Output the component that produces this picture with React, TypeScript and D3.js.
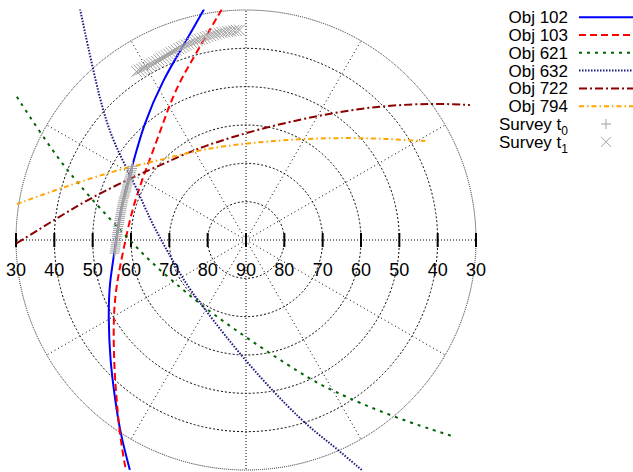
import React, { useRef, useEffect } from "react";
import * as d3 from "d3";

// tracks as [polar angle in deg (0 = right, counter-clockwise), elevation in deg]
const obj102: [number, number][] = [
  [100.3, 28.8], [106.5, 35.6], [117.5, 42.9], [132.0, 49.9], [145.8, 54.4],
  [164.4, 56.1], [184.4, 55.7], [197.6, 52.6], [209.1, 48.9], [221.4, 42.7],
  [230.7, 36.1], [236.9, 29.9], [243.2, 22.8],
];
const obj103: [number, number][] = [
  [96.0, 29.5], [104.2, 38.9], [115.2, 46.5], [127.7, 53.7], [148.4, 58.5],
  [165.3, 59.2], [184.7, 57.9], [198.5, 54.4], [210.0, 50.0], [223.8, 42.3],
  [231.1, 36.3], [236.8, 29.7], [242.4, 22.3],
];
const obj621: [number, number][] = [
  [148.0, 19.5], [152.8, 30.1], [158.7, 39.8], [166.8, 50.0], [178.4, 58.9],
  [192.7, 64.3], [218.6, 69.1], [237.4, 69.3], [270.4, 64.4], [293.0, 51.7],
  [299.2, 45.2], [309.7, 29.9], [316.4, 15.9],
];
const obj632: [number, number][] = [
  [125.7, 15.8], [133.3, 32.6], [142.8, 45.4], [152.0, 56.7], [168.2, 64.4],
  [187.2, 69.2], [212.5, 70.6], [234.0, 69.6], [270.3, 57.8], [287.4, 39.9],
  [292.5, 32.7], [296.7, 22.8],
];
const obj722: [number, number][] = [
  [180.8, 30.2], [173.5, 40.3], [165.0, 47.9], [150.7, 56.3], [136.0, 61.0],
  [116.2, 62.9], [79.6, 59.9], [55.6, 49.7], [44.4, 39.9], [36.1, 29.5],
  [31.1, 21.8],
];
const obj794: [number, number][] = [
  [171.1, 29.5], [164.5, 39.6], [151.6, 51.6], [137.1, 59.4], [116.9, 63.5],
  [87.6, 64.6], [61.9, 60.1], [44.5, 51.9], [35.0, 44.1], [28.9, 36.6],
];
const surveyT0: [number, number][] = [
  [147.0, 54.7], [147.9, 54.9], [148.8, 55.1], [149.7, 55.2], [150.6, 55.4],
  [151.5, 55.5], [152.4, 55.6], [153.3, 55.7], [154.2, 55.8], [155.1, 55.9],
  [156.0, 56.0], [156.9, 56.1], [157.8, 56.2], [158.7, 56.2], [159.6, 56.3],
  [160.5, 56.3], [161.4, 56.3], [162.3, 56.4], [163.2, 56.4], [164.1, 56.5],
  [165.0, 56.5], [165.9, 56.5], [166.8, 56.6], [167.7, 56.6], [168.6, 56.6],
  [169.5, 56.6], [170.4, 56.6], [171.3, 56.6], [172.2, 56.6], [173.1, 56.6],
  [174.0, 56.5], [174.9, 56.5], [175.8, 56.5], [176.7, 56.4], [177.6, 56.4],
  [178.5, 56.3], [179.4, 56.3], [180.3, 56.2], [181.2, 56.1], [182.1, 56.0],
  [183.0, 55.9], [183.9, 55.8], [184.8, 55.7], [185.7, 55.5],
];
const surveyT1: [number, number][] = [
  [123.0, 37.6], [122.2, 37.7], [121.4, 37.8], [120.6, 37.8], [119.8, 37.9],
  [119.0, 37.9], [118.2, 37.9], [117.4, 37.9], [116.6, 37.9], [115.8, 37.8],
  [115.0, 37.8], [114.2, 37.7], [113.4, 37.6], [112.6, 37.5], [111.8, 37.4],
  [111.0, 37.3], [110.2, 37.2], [109.4, 37.1], [108.6, 37.0], [107.8, 36.9],
  [107.0, 36.8], [106.2, 36.7], [105.4, 36.6], [104.6, 36.5], [103.8, 36.4],
  [103.0, 36.3], [102.2, 36.2], [101.4, 36.1], [100.6, 36.0], [99.8, 35.9],
  [99.0, 35.8], [98.2, 35.7], [97.4, 35.6], [96.6, 35.5], [95.8, 35.5],
  [95.0, 35.4], [94.2, 35.4], [93.4, 35.3], [92.6, 35.3], [91.8, 35.2],
];

const gridElevations = [80, 70, 60, 50, 40];
const tickElevations = [30, 40, 50, 60, 70, 80, 90];
const spokeAngles = [0, 30, 60, 90, 120, 150, 180, 210, 240, 270, 300, 330];

const series = [
  { name: "Obj 102", data: obj102, color: "#0000ff", dash: null },
  { name: "Obj 103", data: obj103, color: "#ff0000", dash: "7,4" },
  { name: "Obj 621", data: obj621, color: "#006400", dash: "3,5" },
  { name: "Obj 632", data: obj632, color: "#1a1a80", dash: "1.5,1.5" },
  { name: "Obj 722", data: obj722, color: "#8b0000", dash: "8,3,2,3" },
  { name: "Obj 794", data: obj794, color: "#ffa500", dash: "5,3,1.5,3" },
];

const FONT = "'Liberation Sans', Arial, sans-serif";

const SkyPlot: React.FC = () => {
  const svgRef = useRef<SVGSVGElement>(null);

  useEffect(() => {
    if (!svgRef.current) return;
    const width = 633;
    const height = 472;
    const cx = 246;
    const cy = 240;

    const svg = d3.select(svgRef.current);
    svg.selectAll("*").remove();

    // elevation -> radius
    const r = d3.scaleLinear().domain([90, 30]).range([0, 230]);
    const toRad = (deg: number) => (deg * Math.PI) / 180;
    const px = (d: [number, number]) => cx + r(d[1]) * Math.cos(toRad(d[0]));
    const py = (d: [number, number]) => cy - r(d[1]) * Math.sin(toRad(d[0]));

    svg
      .append("defs")
      .append("clipPath")
      .attr("id", "plot-clip")
      .append("rect")
      .attr("x", 16)
      .attr("y", 9.5)
      .attr("width", 460)
      .attr("height", 461);

    const g = svg.append("g");

    // spokes
    spokeAngles.forEach((a) => {
      const axial = a % 90 === 0;
      g.append("line")
        .attr("x1", cx)
        .attr("y1", cy)
        .attr("x2", cx + r(30) * Math.cos(toRad(a)))
        .attr("y2", cy - r(30) * Math.sin(toRad(a)))
        .attr("stroke", "#000")
        .attr("stroke-width", 1)
        .attr("stroke-dasharray", axial ? "1,2" : "1,3");
    });

    // circles
    gridElevations.forEach((el) => {
      g.append("circle")
        .attr("cx", cx)
        .attr("cy", cy)
        .attr("r", r(el))
        .attr("fill", "none")
        .attr("stroke", "#000")
        .attr("stroke-width", 1)
        .attr("stroke-dasharray", "2,2");
    });
    g.append("circle")
      .attr("cx", cx)
      .attr("cy", cy)
      .attr("r", r(30))
      .attr("fill", "none")
      .attr("stroke", "#222")
      .attr("stroke-width", 1)
      .attr("stroke-dasharray", "1,1");

    // tick bars + labels on the horizontal axis
    const ticks: { x: number; v: number }[] = [];
    tickElevations.forEach((v) => {
      ticks.push({ x: cx - r(v), v });
      if (v !== 90) ticks.push({ x: cx + r(v), v });
    });
    ticks.forEach((t) => {
      g.append("line")
        .attr("x1", t.x)
        .attr("x2", t.x)
        .attr("y1", cy - 7)
        .attr("y2", cy + 7)
        .attr("stroke", "#000")
        .attr("stroke-width", 2);
      g.append("text")
        .attr("x", t.x)
        .attr("y", cy + 36)
        .attr("text-anchor", "middle")
        .style("font-family", FONT)
        .style("font-size", "18px")
        .attr("fill", "#000")
        .text(t.v);
    });

    const plot = svg.append("g").attr("clip-path", "url(#plot-clip)");

    const line = d3
      .line<[number, number]>()
      .x(px)
      .y(py)
      .curve(d3.curveBasis);

    series.forEach((s) => {
      plot
        .append("path")
        .attr("d", line(s.data))
        .attr("fill", "none")
        .attr("stroke", s.color)
        .attr("stroke-width", 2)
        .attr("stroke-dasharray", s.dash ?? null);
    });

    const plus = (sel: any, x: number, y: number, s: number) => {
      sel.append("path")
        .attr("d", `M${x - s},${y}H${x + s}M${x},${y - s}V${y + s}`)
        .attr("stroke", "#a0a0a0")
        .attr("stroke-width", 1)
        .attr("fill", "none");
    };
    const cross = (sel: any, x: number, y: number, s: number) => {
      sel.append("path")
        .attr("d", `M${x - s},${y - s}L${x + s},${y + s}M${x - s},${y + s}L${x + s},${y - s}`)
        .attr("stroke", "#a0a0a0")
        .attr("stroke-width", 1)
        .attr("fill", "none");
    };

    surveyT0.forEach((d) => plus(plot, px(d), py(d), 5));
    surveyT1.forEach((d) => cross(plot, px(d), py(d), 5.5));

    // legend
    const legend = svg.append("g");
    const rowY = (i: number) => 17.2 + i * 17.8;
    series.forEach((s, i) => {
      legend
        .append("text")
        .attr("x", 568)
        .attr("y", rowY(i) + 6)
        .attr("text-anchor", "end")
        .style("font-family", FONT)
        .style("font-size", "17px")
        .text(s.name);
      legend
        .append("line")
        .attr("x1", 579)
        .attr("x2", 633)
        .attr("y1", rowY(i))
        .attr("y2", rowY(i))
        .attr("stroke", s.color)
        .attr("stroke-width", 2)
        .attr("stroke-dasharray", s.dash ?? null);
    });
    ["0", "1"].forEach((sub, j) => {
      const i = 6 + j;
      const t = legend
        .append("text")
        .attr("x", 568)
        .attr("y", rowY(i) + 6)
        .attr("text-anchor", "end")
        .style("font-family", FONT)
        .style("font-size", "17px");
      t.append("tspan").text("Survey t");
      t.append("tspan")
        .attr("dy", 5)
        .style("font-size", "12px")
        .text(sub);
      if (j === 0) plus(legend, 606, rowY(i), 5);
      else cross(legend, 606, rowY(i), 5);
    });

    svg.attr("width", width).attr("height", height);
  }, []);

  return (
    <svg
      ref={svgRef}
      width={633}
      height={472}
      style={{ position: "absolute", left: 0, top: 0, background: "#fff" }}
    />
  );
};

export default function App() {
  return <SkyPlot />;
}
